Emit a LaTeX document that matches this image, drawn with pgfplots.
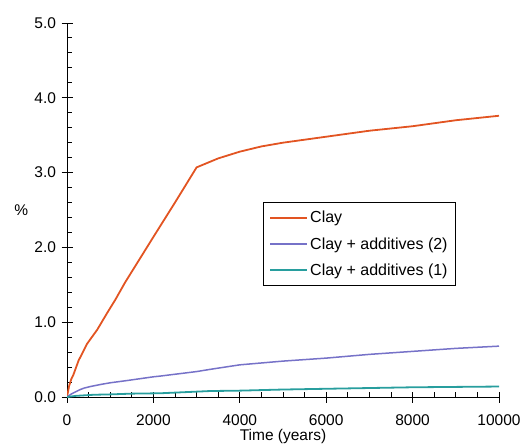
\documentclass[border=0pt]{standalone}
\usepackage{fontspec}
\setmainfont{Liberation Sans}
\usepackage{pgfplots}
\pgfplotsset{compat=1.18}
\definecolor{clayc}{RGB}{226,84,34}
\definecolor{add2}{RGB}{118,114,200}
\definecolor{add1}{RGB}{40,158,158}
\begin{document}
\begin{tikzpicture}[font=\fontsize{15.5}{18}\selectfont]
\begin{axis}[
  at={(67pt,48pt)}, anchor=south west,
  scale only axis, width=432pt, height=374pt,
  xmin=0, xmax=10000, ymin=0, ymax=5,
  axis lines=left, axis line style={-, line width=0.9pt},
  xtick={0,2000,...,10000}, ytick={0,1,...,5},
  minor x tick num=3, minor y tick num=4,
  tick align=center,
  major tick length=11pt, minor tick length=5pt,
  tick style={black, line width=1pt},
  minor x tick style={yshift=2.5pt},
  minor y tick style={xshift=2.5pt},
  /pgf/number format/assume math mode=true,
  xticklabel style={/pgf/number format/1000 sep={}, yshift=-9pt},
  yticklabel style={/pgf/number format/fixed, /pgf/number format/fixed zerofill, /pgf/number format/precision=1, xshift=-2pt},
  scaled x ticks=false,
  xlabel={Time (years)},
  xlabel style={yshift=4pt},
  ylabel={\%},
  ylabel style={rotate=-90, anchor=center, at={(axis description cs:-0.106,0.5)}},
  legend cell align=left,
  legend style={at={(axis description cs:0.4537,0.5214)}, anchor=north west, draw=black, line width=0.8pt,
    font=\fontsize{16}{16}\selectfont, inner xsep=6pt, inner ysep=7pt, row sep=9pt,
    /tikz/every odd column/.append style={column sep=0pt},
    /tikz/every even column/.append style={column sep=1pt}},
  legend image code/.code={\draw[#1] (0pt,0pt)--(37pt,0pt);},
]
\addplot[clayc, line width=1.8pt] coordinates {
(0,0) (50,0.15) (100,0.24) (150,0.30) (200,0.38) (270,0.49) (350,0.58) (463,0.71) (600,0.82) (700,0.90) (926,1.12) (1118,1.30) (1343,1.53) (2000,2.14) (2500,2.60) (3000,3.07) (3500,3.19) (4000,3.28) (4500,3.35) (5000,3.40) (5500,3.44) (6000,3.48) (6500,3.52) (7000,3.56) (7500,3.59) (8000,3.62) (8500,3.66) (9000,3.70) (9500,3.73) (10000,3.76)};
\addlegendentry{Clay}
\addplot[add2, line width=1.5pt] coordinates {
(0,0) (100,0.04) (200,0.07) (308,0.10) (400,0.12) (540,0.14) (800,0.17) (1000,0.19) (1389,0.22) (2000,0.27) (2160,0.28) (3000,0.34) (3317,0.37) (4000,0.43) (5000,0.48) (6000,0.52) (7000,0.57) (8000,0.61) (9000,0.65) (10000,0.68)};
\addlegendentry{Clay + additives (2)}
\addplot[add1, line width=1.8pt] coordinates {
(0,0) (200,0.015) (617,0.03) (1000,0.035) (1500,0.045) (2160,0.05) (3317,0.08) (4000,0.085) (5000,0.10) (6000,0.11) (7000,0.12) (8000,0.13) (9000,0.135) (10000,0.14)};
\addlegendentry{Clay + additives (1)}
\end{axis}
\pgfresetboundingbox
\path (0,0) rectangle (529pt,445pt);
\end{tikzpicture}
\end{document}
